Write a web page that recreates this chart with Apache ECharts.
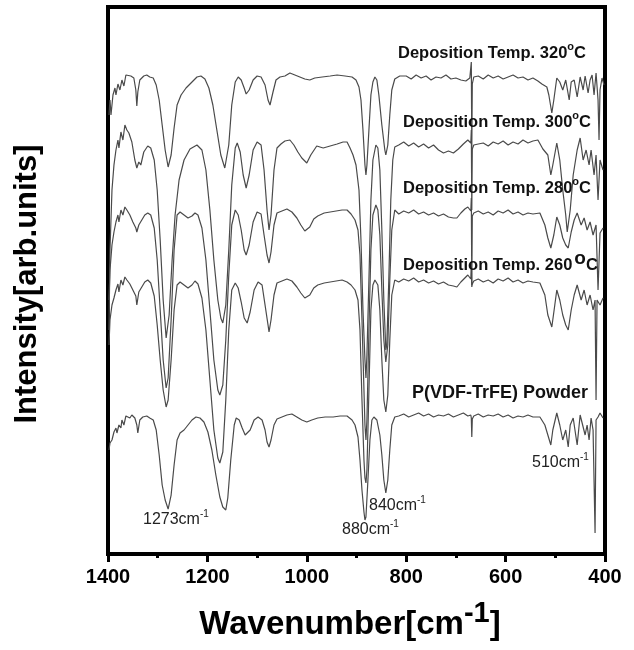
<!DOCTYPE html>
<html><head><meta charset="utf-8">
<script src="https://cdn.jsdelivr.net/npm/echarts@6/dist/echarts.min.js"></script>
<style>html,body{margin:0;padding:0;background:#fff}#c{width:634px;height:650px}</style>
</head><body><div id="c"></div>
<script>
// x axis (wavenumber, cm-1), reversed
const xMin = 400, xMax = 1400, xStep = 200;
// intensity is in arbitrary units
const yMin = 0, yMax = 547;

// spectra: [wavenumber, intensity]
const t320 = [[1398,439],[1396,454],[1394,439],[1390,459],[1386,466],[1384,459],[1380,470],[1376,464],[1372,474],[1368,468],[1364,479],[1360,481],[1354,478],[1348,476],[1344,464],[1342,448],[1340,462],[1336,474],[1328,478],[1322,479],[1316,477],[1309,476],[1303,469],[1297,454],[1291,429],[1285,404],[1279,387],[1273,399],[1267,426],[1261,449],[1253,459],[1243,466],[1231,472],[1221,477],[1213,478],[1205,475],[1197,466],[1189,449],[1181,424],[1173,399],[1165,386],[1157,409],[1151,449],[1144,472],[1138,477],[1132,474],[1126,466],[1122,460],[1116,464],[1108,474],[1100,478],[1092,477],[1084,469],[1078,454],[1074,449],[1068,462],[1062,474],[1054,477],[1044,478],[1034,481],[1024,479],[1014,477],[1004,475],[994,474],[984,476],[969,477],[953,478],[939,479],[923,478],[909,477],[901,474],[895,467],[891,454],[887,424],[883,389],[881,379],[879,389],[875,424],[871,459],[867,472],[863,477],[859,474],[855,459],[849,429],[843,404],[841,399],[837,409],[833,439],[829,464],[823,475],[813,478],[800,478],[790,475],[780,479],[770,476],[760,478],[750,474],[740,477],[730,476],[720,479],[710,475],[700,476],[690,474],[680,473],[672,476],[670,478],[669,492],[668,404],[667,470],[664,477],[655,478],[645,475],[635,479],[625,476],[615,478],[605,475],[595,477],[585,479],[575,476],[565,477],[555,474],[545,476],[535,473],[527,470],[517,467],[513,459],[507,441],[503,454],[497,476],[491,472],[485,464],[479,474],[472,454],[468,472],[462,474],[456,457],[450,477],[444,464],[440,478],[434,461],[430,474],[426,479],[422,459],[418,481],[414,454],[412,414],[410,464],[406,476],[402,469]];

const t300 = [[1398,224],[1396,304],[1392,364],[1388,389],[1384,404],[1380,414],[1378,406],[1374,422],[1370,414],[1366,429],[1362,424],[1358,421],[1352,412],[1346,394],[1342,386],[1338,392],[1334,389],[1328,402],[1320,408],[1314,406],[1307,394],[1301,364],[1295,314],[1289,254],[1283,216],[1277,239],[1271,294],[1265,339],[1257,374],[1247,394],[1235,405],[1221,409],[1211,404],[1203,384],[1195,344],[1187,294],[1179,254],[1173,236],[1169,231],[1163,249],[1157,304],[1151,369],[1144,406],[1140,411],[1134,402],[1128,379],[1122,366],[1116,379],[1108,404],[1100,412],[1092,409],[1086,384],[1080,344],[1076,324],[1072,339],[1066,384],[1060,406],[1052,410],[1044,413],[1034,414],[1026,409],[1018,402],[1010,396],[1000,391],[992,399],[980,408],[967,406],[953,408],[939,410],[927,412],[919,412],[913,406],[907,399],[901,389],[895,364],[891,314],[887,244],[883,194],[881,176],[879,199],[875,274],[871,354],[867,394],[861,409],[857,406],[853,384],[849,324],[845,254],[841,204],[839,209],[835,274],[831,354],[827,394],[823,407],[815,409],[805,412],[795,408],[785,411],[775,407],[765,410],[755,406],[745,409],[735,404],[725,401],[715,403],[705,401],[695,405],[685,410],[676,414],[670,411],[669,424],[668,344],[667,405],[664,409],[655,410],[645,411],[635,408],[625,412],[615,410],[605,413],[595,409],[585,412],[575,410],[565,414],[555,411],[545,413],[535,414],[525,405],[515,399],[509,379],[505,389],[497,411],[491,394],[485,364],[479,339],[476,322],[470,344],[464,379],[456,404],[450,416],[444,394],[438,404],[432,389],[428,404],[422,379],[418,399],[414,354],[410,394],[404,384]];

const t280 = [[1398,254],[1396,284],[1392,309],[1388,322],[1384,332],[1380,339],[1378,332],[1374,344],[1370,339],[1366,347],[1362,344],[1356,339],[1350,332],[1344,326],[1342,322],[1338,329],[1332,334],[1326,339],[1320,341],[1314,339],[1307,326],[1301,294],[1295,244],[1289,194],[1283,166],[1279,176],[1273,234],[1267,304],[1261,339],[1255,342],[1247,339],[1239,336],[1231,338],[1225,341],[1219,339],[1211,326],[1203,294],[1195,244],[1187,194],[1179,164],[1175,159],[1169,169],[1163,214],[1157,279],[1151,329],[1144,344],[1138,339],[1132,324],[1126,304],[1122,299],[1116,309],[1108,332],[1100,342],[1092,340],[1086,319],[1080,299],[1076,291],[1072,302],[1066,329],[1060,341],[1050,343],[1040,345],[1030,342],[1020,336],[1012,329],[1004,323],[1000,321],[994,327],[986,335],[978,338],[965,341],[953,342],[941,343],[929,344],[919,344],[911,340],[903,334],[897,324],[893,299],[889,234],[885,164],[883,129],[881,114],[879,134],[875,224],[871,304],[867,339],[861,349],[857,344],[853,319],[849,264],[845,214],[841,192],[837,209],[833,274],[829,324],[823,344],[815,340],[805,343],[795,341],[785,344],[775,340],[765,342],[755,339],[745,341],[735,338],[725,340],[715,337],[705,336],[698,336],[690,341],[682,345],[676,347],[670,343],[669,356],[668,269],[667,338],[664,341],[655,343],[645,340],[635,342],[625,339],[615,343],[605,341],[595,344],[585,340],[575,342],[565,339],[555,341],[545,340],[531,341],[521,329],[515,316],[509,306],[503,319],[497,337],[491,329],[485,316],[479,309],[474,306],[468,322],[462,334],[456,341],[448,329],[442,336],[436,324],[430,332],[424,319],[418,329],[414,264],[410,321],[404,326]];

const t260 = [[1398,209],[1396,234],[1392,249],[1388,256],[1384,264],[1380,270],[1378,262],[1374,274],[1370,269],[1366,277],[1362,274],[1356,270],[1350,264],[1344,258],[1342,249],[1338,262],[1332,267],[1326,272],[1320,274],[1314,271],[1307,258],[1301,229],[1295,194],[1289,164],[1283,147],[1279,154],[1273,194],[1267,244],[1261,269],[1255,272],[1247,269],[1239,266],[1231,269],[1225,273],[1219,270],[1211,256],[1203,224],[1195,174],[1187,124],[1179,96],[1175,91],[1169,102],[1163,154],[1157,224],[1151,264],[1144,271],[1138,266],[1132,252],[1126,236],[1120,231],[1114,242],[1106,264],[1098,272],[1090,269],[1084,249],[1078,229],[1076,222],[1072,234],[1066,259],[1060,271],[1050,273],[1040,275],[1030,273],[1020,267],[1012,261],[1004,256],[1000,254],[994,259],[986,266],[978,269],[965,271],[953,272],[941,273],[929,274],[919,272],[911,269],[903,264],[897,254],[893,224],[889,154],[885,94],[883,76],[881,71],[879,84],[875,164],[871,244],[867,269],[863,274],[857,269],[853,244],[849,194],[845,154],[841,142],[837,159],[833,214],[829,259],[823,274],[815,272],[805,275],[795,273],[785,276],[775,272],[765,274],[755,271],[745,273],[735,270],[725,272],[715,269],[705,268],[698,267],[690,272],[682,276],[676,279],[670,275],[669,290],[668,267],[667,270],[664,273],[655,275],[645,272],[635,274],[625,271],[615,275],[605,273],[595,276],[585,272],[575,274],[565,271],[555,273],[545,272],[531,271],[521,259],[515,239],[507,227],[501,249],[497,264],[491,254],[485,239],[479,229],[474,224],[468,244],[462,259],[456,269],[448,254],[442,264],[436,249],[430,259],[424,244],[420,254],[418,154],[416,254],[410,249],[404,256]];

const tPowder = [[1398,104],[1396,111],[1392,114],[1388,122],[1384,126],[1382,121],[1378,129],[1374,126],[1372,134],[1368,129],[1364,138],[1360,140],[1356,136],[1352,139],[1346,136],[1342,129],[1340,121],[1336,134],[1330,137],[1322,138],[1316,136],[1309,134],[1303,124],[1297,99],[1291,69],[1285,54],[1279,45],[1273,59],[1267,89],[1261,114],[1255,121],[1247,124],[1239,129],[1231,134],[1223,137],[1215,136],[1207,132],[1199,122],[1191,104],[1183,79],[1175,57],[1169,47],[1163,44],[1159,56],[1153,94],[1146,129],[1142,136],[1136,134],[1130,126],[1124,119],[1120,117],[1114,124],[1106,134],[1098,137],[1090,134],[1084,124],[1080,112],[1076,107],[1072,114],[1066,129],[1060,135],[1050,137],[1040,139],[1030,140],[1020,137],[1010,134],[1000,132],[990,134],[978,136],[963,137],[947,137],[933,138],[919,138],[909,134],[903,129],[897,117],[893,94],[889,64],[885,42],[883,34],[881,37],[877,74],[873,114],[869,134],[865,137],[859,134],[853,119],[849,99],[845,74],[841,61],[837,74],[833,104],[829,129],[823,137],[815,138],[805,140],[795,137],[785,139],[775,141],[765,138],[755,140],[745,137],[735,139],[725,138],[715,140],[705,137],[695,139],[685,141],[676,138],[670,139],[669,136],[668,117],[667,135],[664,138],[655,140],[645,137],[635,139],[625,138],[615,140],[605,137],[595,139],[585,136],[575,138],[565,137],[555,139],[545,137],[531,137],[521,129],[515,119],[509,109],[505,124],[497,141],[491,129],[485,114],[479,124],[474,107],[470,129],[464,136],[456,109],[450,139],[446,141],[440,119],[436,129],[432,114],[428,136],[424,124],[420,21],[418,134],[414,137],[410,141],[404,136]];

const seriesNames = ['Deposition Temp. 320°C','Deposition Temp. 300°C','Deposition Temp. 280°C','Deposition Temp. 260°C','P(VDF-TrFE) Powder'];
const seriesData = [t320, t300, t280, t260, tPowder];
const tempLabels = ['320','300','280','260'];
const peakLabels = ['1273','880','840','510'];

const FONT = '"Liberation Sans", Arial, Helvetica, sans-serif';
const ctx = document.createElement('canvas').getContext('2d');
function measure(t, f){ ctx.font = f; return ctx.measureText(t).width; }
// place a run of text pieces one after another: parts = [text, font, dy, dx]
function run(x, y, parts, color, centered){
  let total = 0;
  parts.forEach(p => total += measure(p[0], p[1]) + (p[3] || 0));
  let cx = centered ? x - total/2 : x;
  const out = [];
  parts.forEach(p => {
    cx += (p[3] || 0);
    out.push({type:'text', x:cx, y:y + p[2], silent:true, z:100,
      style:{text:p[0], font:p[1], fill:color, align:'left', verticalAlign:'middle'}});
    cx += measure(p[0], p[1]);
  });
  return out;
}
const B165 = 'bold 16.5px ' + FONT, B11 = 'bold 11px ' + FONT, B19 = 'bold 19px ' + FONT;
const R16 = '16px ' + FONT, R10 = '10px ' + FONT;
const depo = (x, y, temp, big) => run(x, y, [['Deposition Temp. ' + temp, B165, 0], big ? ['o', B19, -6, 2] : ['o', B11, -6], ['C', B165, 0]], '#111');
const peak = (x, y, w) => run(x, y, [[w + 'cm', R16, 0], ['-1', R10, -6]], '#222');

const chart = echarts.init(document.getElementById('c'), null, {renderer:'canvas'});
const graphics = [].concat(
  depo(398, 53, tempLabels[0], false),
  depo(403, 122, tempLabels[1], false),
  depo(403, 188, tempLabels[2], false),
  depo(403, 265, tempLabels[3], true),
  [{type:'text', x:412, y:393, silent:true, style:{text:seriesNames[4], font:'bold 18px ' + FONT, fill:'#111', align:'left', verticalAlign:'middle'}}],
  peak(143, 520, peakLabels[0]),
  peak(342, 530, peakLabels[1]),
  peak(369, 506, peakLabels[2]),
  peak(532, 463, peakLabels[3]),
  run(350, 625, [['Wavenumber[cm', 'bold 33px ' + FONT, 0], ['-1', 'bold 29px ' + FONT, -11], [']', 'bold 33px ' + FONT, 0]], '#000', true),
  [{type:'text', x:27, y:284, rotation:Math.PI/2, silent:true, style:{text:'Intensity[arb.units]', font:'bold 31px ' + FONT, fill:'#000', align:'center', verticalAlign:'middle'}}]
);

const option = {
  animation:false,
  grid:{left:108, top:7, width:497, height:547, show:true, borderColor:'#000', borderWidth:4},
  xAxis:{type:'value', min:xMin, max:xMax, interval:xStep, inverse:true,
    axisLine:{show:true, lineStyle:{color:'#000', width:4}},
    axisTick:{show:true, inside:false, length:8, lineStyle:{color:'#000', width:3}},
    minorTick:{show:true, splitNumber:2, length:4, lineStyle:{color:'#000', width:3}},
    splitLine:{show:false}, minorSplitLine:{show:false},
    axisLabel:{margin:13, color:'#000', fontSize:20, fontWeight:'bold', fontFamily:FONT, showMinLabel:true, showMaxLabel:true,
      formatter: v => String(v)}},
  yAxis:{type:'value', min:yMin, max:yMax, show:false},
  series: seriesData.map((d,i)=>({name:seriesNames[i], type:'line', data:d, showSymbol:false, symbol:'none', silent:true,
    lineStyle:{color:'#4a4a4a', width:1.2}})),
  graphic: graphics
};
chart.setOption(option);
</script></body></html>
